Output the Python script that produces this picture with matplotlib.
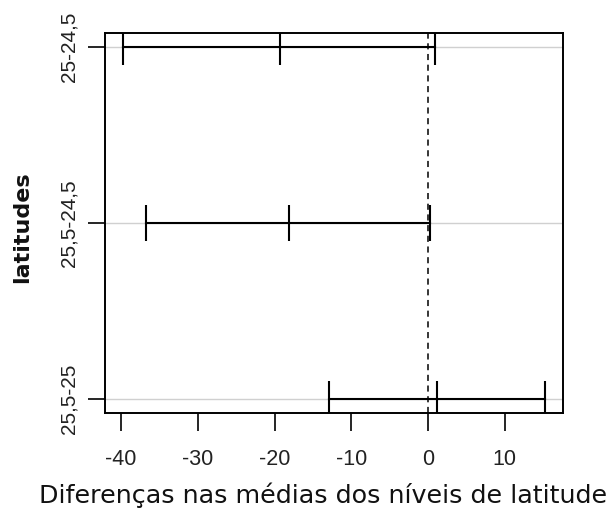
import matplotlib
matplotlib.use("Agg")
import matplotlib.pyplot as plt

comparisons = ["25,5-25", "25,5-24,5", "25-24,5"]
diff = [1.13, -18.1, -19.26]
lwr = [-12.9, -36.8, -39.8]
upr = [15.3, 0.26, 0.87]
xticks = [-40, -30, -20, -10, 0, 10]

W, H = 610, 516
fig = plt.figure(figsize=(W/100, H/100), dpi=100)
ax = fig.add_axes([105/W, 1-413/H, 458/W, 380/H])

ypos = list(range(1, len(comparisons) + 1))
ax.set_xlim(-42.1, 17.6)
ax.set_ylim(0.92, 3.08)

for y in ypos:
    ax.axhline(y, color="#d0d0d0", lw=1, zorder=1)
ax.axvline(0, color="black", lw=1.1, ls=(0, (4, 3)), zorder=2)

h = 0.1
for y, d, lo, hi in zip(ypos, diff, lwr, upr):
    ax.plot([lo, hi], [y, y], color="black", lw=1.5, zorder=3)
    ax.vlines([lo, d, hi], y - h, y + h, color="black", lw=1.5, zorder=3)

ax.set_xticks(xticks)
ax.set_xticklabels([str(v) for v in xticks], family="Liberation Sans", fontsize=15.5, color="#222222")
ax.set_yticks(ypos)
ax.set_yticklabels(comparisons, family="Liberation Sans", fontsize=15, rotation=90, va="center", color="#222222")
ax.tick_params(axis="x", length=13, width=1.2, pad=13, direction="out")
ax.tick_params(axis="y", length=12, width=1.2, pad=7, direction="out")
for s in ax.spines.values():
    s.set_linewidth(1.4)

fig.text(323/W, 1-495/H, "Diferenças nas médias dos níveis de latitude", family="DejaVu Sans",
         fontsize=18.3, ha="center", va="center", color="#111111")
fig.text(22/W, 1-227/H, "latitudes", family="DejaVu Sans", fontweight="semibold",
         fontsize=16, rotation=90, ha="center", va="center", color="#111111")

fig.savefig("out.png", dpi=100)
